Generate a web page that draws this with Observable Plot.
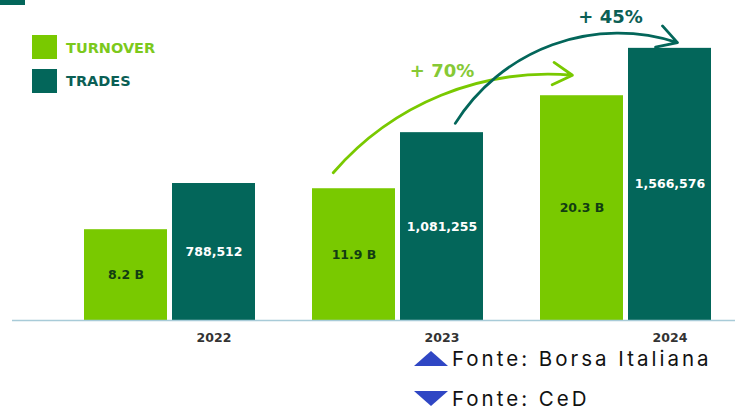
<!DOCTYPE html>
<html>
<head>
<meta charset="utf-8">
<script src="https://cdn.jsdelivr.net/npm/d3@7"></script>
<script src="https://cdn.jsdelivr.net/npm/@observablehq/plot@0.6"></script>
<style>
  html, body { margin: 0; padding: 0; background: #fff; }
  #wrap { position: relative; width: 735px; height: 412px; overflow: hidden; }
  #chart { position: absolute; left: 0; top: 0; }
  .sw { position: absolute; width: 25px; height: 24px; }
  .lg { position: absolute; font: bold 14.5px "DejaVu Sans", sans-serif; line-height: 1; }
  .src { position: absolute; left: 414px; font: 20.5px Inter, sans-serif; color: #111; display: flex; align-items: center; letter-spacing: 3px; }
  .up { width: 0; height: 0; border-left: 17px solid transparent; border-right: 17px solid transparent; border-bottom: 15px solid #2f46c4; margin-right: 4px; }
  .down { width: 0; height: 0; border-left: 17px solid transparent; border-right: 17px solid transparent; border-top: 15px solid #2f46c4; margin-right: 4px; }
</style>
</head>
<body>
<div id="wrap">
  <div id="chart"></div>
</div>
<script>
// ---- data ----
const years = ["2022", "2023", "2024"];
const turnover = [8.2, 11.9, 20.3];            // billions
const turnoverLabels = ["8.2 B", "11.9 B", "20.3 B"];
const trades = [788512, 1081255, 1566576];
const seriesNames = ["TURNOVER", "TRADES"];
const growthLabels = ["+ 70%", "+ 45%"];

// ---- styling / layout ----
const GREEN = "#79c900";
const TEAL = "#03665a";
const turnoverAxisMax = 28.9;     // B, full plot height
const tradesAxisMax = 1842000;    // trades, full plot height (dual axis)
const W = 0.364;                  // bar width (in group units)
const G = 0.022;                  // gap between paired bars

const bars = [];
years.forEach((yr, i) => {
  bars.push({year: yr, i, series: "TURNOVER", x1: i - G / 2 - W, x2: i - G / 2,
             v: turnover[i] / turnoverAxisMax, label: turnoverLabels[i]});
  bars.push({year: yr, i, series: "TRADES", x1: i + G / 2, x2: i + G / 2 + W,
             v: trades[i] / tradesAxisMax, label: d3.format(",")(trades[i])});
});
const bar = (i, s) => bars.find(b => b.i === i && b.series === s);

const arrowDefs = [
  {from: bar(1, "TURNOVER"), to: bar(2, "TURNOVER"), fs: 0.25, ts: 0.385, dyS: 0.05, dyE: 0.064, bend: 27,
   color: GREEN, text: growthLabels[0], tx: bar(1, "TRADES").x1 + W / 2, tdy: -4, tcolor: "#86c935"},
  {from: bar(1, "TRADES"), to: bar(2, "TRADES"), fs: 0.66, ts: 0.59, dyS: 0.029, dyE: 0.018, bend: 38,
   color: TEAL, text: growthLabels[1], tx: bar(2, "TURNOVER").x2 - 0.057, tdy: -25, tcolor: "#0b5f55"}
].map(a => ({...a,
  x1: a.from.x1 + a.fs * W, y1: a.from.v + a.dyS,
  x2: a.to.x1 + a.ts * W, y2: a.to.v + a.dyE}));

const arrowMarks = arrowDefs.flatMap(a => [
  Plot.arrow([a], {x1: "x1", y1: "y1", x2: "x2", y2: "y2", bend: a.bend,
    stroke: a.color, strokeWidth: 2.8, headLength: 12}),
  Plot.text([a], {x: "tx", y: "y2", dy: a.tdy, text: "text", fill: a.tcolor,
    fontFamily: "DejaVu Sans", fontWeight: "bold", fontSize: 18})
]);

const chart = Plot.plot({
  width: 735,
  height: 345,
  marginLeft: 12,
  marginRight: 0,
  marginTop: 0,
  marginBottom: 0,
  x: {type: "linear", domain: [0, 2], range: [169.5, 625.5], axis: null},
  y: {domain: [0, 1], range: [320, 0], axis: null},
  marks: [
    Plot.rectY(bars, {x1: "x1", x2: "x2", y1: 0, y2: "v",
      fill: d => d.series === "TURNOVER" ? GREEN : TEAL}),
    Plot.ruleY([0], {stroke: "#a8cbd8", strokeWidth: 1.5}),
    Plot.text(bars, {x: d => (d.x1 + d.x2) / 2, y: d => d.v / 2, text: "label",
      fill: d => d.series === "TURNOVER" ? "#123d12" : "#ffffff",
      fontFamily: "DejaVu Sans", fontWeight: "bold", fontSize: 12.5}),
    Plot.text(years, {x: (d, i) => i + G / 2 + W / 2, y: 0, dy: 17, text: d => d,
      fill: "#333", fontFamily: "DejaVu Sans", fontWeight: "bold", fontSize: 12.5}),
    ...arrowMarks
  ]
});
document.getElementById("chart").appendChild(chart);

// legend + decorations + sources
const wrap = document.getElementById("wrap");
const add = (html) => wrap.insertAdjacentHTML("beforeend", html);
add(`<div style="position:absolute;left:0;top:0;width:25px;height:5px;background:${TEAL}"></div>`);
add(`<div class="sw" style="left:32px;top:35px;background:${GREEN}"></div>`);
add(`<div class="lg" style="left:66px;top:41px;color:#7cc91c">${seriesNames[0]}</div>`);
add(`<div class="sw" style="left:32px;top:69px;background:${TEAL}"></div>`);
add(`<div class="lg" style="left:66px;top:74px;color:#0b5f55">${seriesNames[1]}</div>`);
add(`<div class="src" style="top:346px"><span class="up"></span>Fonte: Borsa Italiana</div>`);
add(`<div class="src" style="top:386px"><span class="down"></span>Fonte: CeD</div>`);
</script>
</body>
</html>
